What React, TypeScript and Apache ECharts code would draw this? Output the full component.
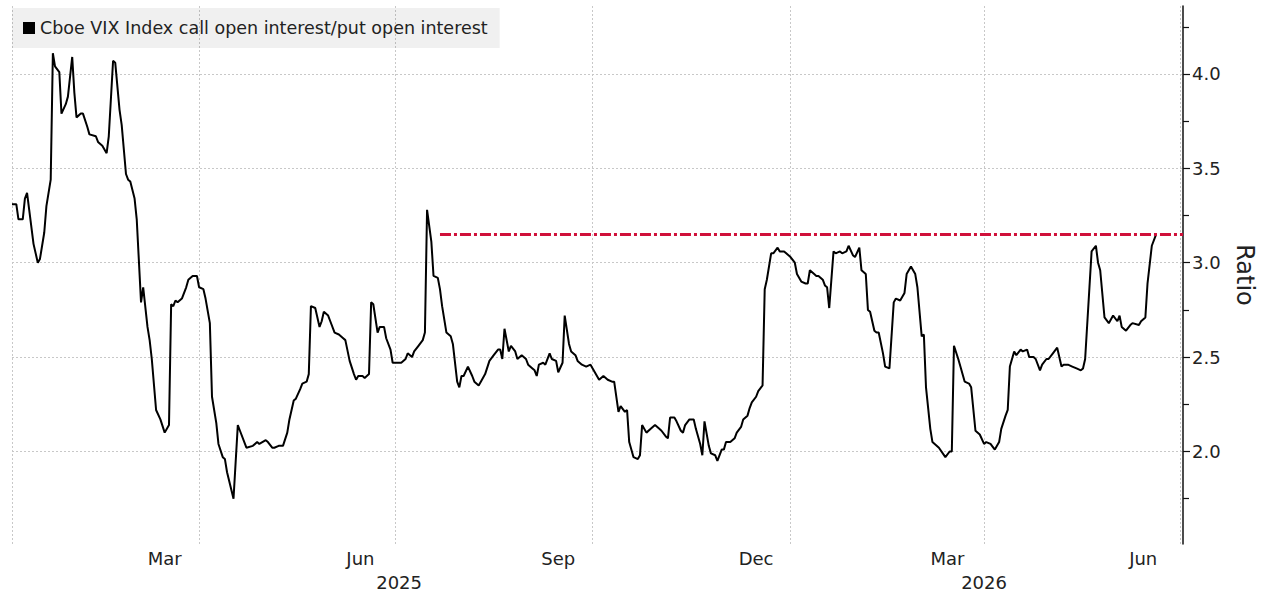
import React, { useEffect, useRef } from "react";
import * as echarts from "echarts";

const seriesName = "Cboe VIX Index call open interest/put open interest";

const dates: string[] = [
  "2025-01-04","2025-01-06","2025-01-07","2025-01-09","2025-01-10","2025-01-11","2025-01-12","2025-01-14","2025-01-16","2025-01-17",
  "2025-01-19","2025-01-20","2025-01-22","2025-01-23","2025-01-24","2025-01-26","2025-01-27","2025-01-29","2025-01-30","2025-02-01",
  "2025-02-02","2025-02-03","2025-02-05","2025-02-06","2025-02-08","2025-02-09","2025-02-12","2025-02-13","2025-02-15","2025-02-17",
  "2025-02-18","2025-02-20","2025-02-21","2025-02-23","2025-02-24","2025-02-26","2025-02-27","2025-02-28","2025-03-02","2025-03-03",
  "2025-03-05","2025-03-06","2025-03-08","2025-03-09","2025-03-10","2025-03-12","2025-03-14","2025-03-16","2025-03-18","2025-03-19",
  "2025-03-20","2025-03-21","2025-03-22","2025-03-24","2025-03-26","2025-03-27","2025-03-29","2025-03-31","2025-04-01","2025-04-03",
  "2025-04-04","2025-04-06","2025-04-07","2025-04-09","2025-04-10","2025-04-12","2025-04-13","2025-04-14","2025-04-17","2025-04-19",
  "2025-04-20","2025-04-23","2025-04-26","2025-04-28","2025-04-29","2025-05-02","2025-05-03","2025-05-05","2025-05-06","2025-05-08",
  "2025-05-10","2025-05-12","2025-05-13","2025-05-15","2025-05-16","2025-05-18","2025-05-19","2025-05-21","2025-05-22","2025-05-23",
  "2025-05-25","2025-05-27","2025-05-28","2025-05-29","2025-05-31","2025-06-01","2025-06-03","2025-06-05","2025-06-07","2025-06-08",
  "2025-06-10","2025-06-12","2025-06-13","2025-06-14","2025-06-16","2025-06-17","2025-06-19","2025-06-20","2025-06-21","2025-06-23",
  "2025-06-24","2025-06-26","2025-06-27","2025-06-29","2025-06-30","2025-07-02","2025-07-04","2025-07-06","2025-07-07","2025-07-09",
  "2025-07-10","2025-07-12","2025-07-14","2025-07-15","2025-07-16","2025-07-18","2025-07-19","2025-07-21","2025-07-22","2025-07-23",
  "2025-07-25","2025-07-27","2025-07-28","2025-07-30","2025-07-31","2025-08-01","2025-08-02","2025-08-04","2025-08-06","2025-08-07",
  "2025-08-09","2025-08-10","2025-08-12","2025-08-14","2025-08-16","2025-08-18","2025-08-19","2025-08-20","2025-08-21","2025-08-23",
  "2025-08-24","2025-08-26","2025-08-27","2025-08-29","2025-08-31","2025-09-01","2025-09-03","2025-09-04","2025-09-05","2025-09-06",
  "2025-09-08","2025-09-09","2025-09-11","2025-09-12","2025-09-14","2025-09-15","2025-09-17","2025-09-18","2025-09-20","2025-09-21",
  "2025-09-23","2025-09-24","2025-09-26","2025-09-28","2025-09-30","2025-10-01","2025-10-03","2025-10-04","2025-10-06","2025-10-08",
  "2025-10-10","2025-10-11","2025-10-13","2025-10-14","2025-10-16","2025-10-17","2025-10-18","2025-10-20","2025-10-22","2025-10-23",
  "2025-10-24","2025-10-26","2025-10-28","2025-10-30","2025-11-01","2025-11-02","2025-11-04","2025-11-05","2025-11-06","2025-11-08",
  "2025-11-09","2025-11-11","2025-11-12","2025-11-13","2025-11-15","2025-11-17","2025-11-18","2025-11-20","2025-11-21","2025-11-22",
  "2025-11-24","2025-11-25","2025-11-27","2025-11-28","2025-11-30","2025-12-01","2025-12-02","2025-12-04","2025-12-06","2025-12-07",
  "2025-12-09","2025-12-10","2025-12-12","2025-12-13","2025-12-14","2025-12-16","2025-12-17","2025-12-19","2025-12-20","2025-12-21",
  "2025-12-23","2025-12-24","2025-12-26","2025-12-27","2025-12-29","2025-12-30","2026-01-01","2026-01-03","2026-01-04","2026-01-06",
  "2026-01-08","2026-01-09","2026-01-10","2026-01-12","2026-01-13","2026-01-14","2026-01-16","2026-01-17","2026-01-18","2026-01-19",
  "2026-01-21","2026-01-22","2026-01-24","2026-01-25","2026-01-27","2026-01-28","2026-01-30","2026-01-31","2026-02-02","2026-02-03",
  "2026-02-05","2026-02-06","2026-02-07","2026-02-09","2026-02-10","2026-02-11","2026-02-13","2026-02-14","2026-02-16","2026-02-18",
  "2026-02-19","2026-02-21","2026-02-23","2026-02-24","2026-02-26","2026-02-28","2026-03-01","2026-03-03","2026-03-04","2026-03-05",
  "2026-03-07","2026-03-08","2026-03-11","2026-03-14","2026-03-16","2026-03-17","2026-03-18","2026-03-20","2026-03-21","2026-03-23",
  "2026-03-25","2026-03-26","2026-03-28","2026-03-30","2026-04-01","2026-04-02","2026-04-04","2026-04-06","2026-04-08","2026-04-09",
  "2026-04-11","2026-04-12","2026-04-13","2026-04-15","2026-04-16","2026-04-18","2026-04-19","2026-04-21","2026-04-22","2026-04-24",
  "2026-04-25","2026-04-27","2026-04-28","2026-04-30","2026-05-01","2026-05-03","2026-05-05","2026-05-07","2026-05-08","2026-05-10",
  "2026-05-12","2026-05-14","2026-05-16","2026-05-17","2026-05-18","2026-05-20","2026-05-21","2026-05-23","2026-05-24","2026-05-25",
  "2026-05-27","2026-05-29","2026-05-31","2026-06-02","2026-06-03","2026-06-04","2026-06-06","2026-06-08","2026-06-09","2026-06-12",
  "2026-06-13","2026-06-15","2026-06-16","2026-06-18","2026-06-20",
];

const ratios: number[] = [
  3.31,3.31,3.23,3.23,3.34,3.37,3.28,3.10,3.00,3.02,
  3.16,3.30,3.44,4.11,4.04,4.01,3.79,3.84,3.88,4.09,
  3.90,3.77,3.79,3.79,3.72,3.68,3.67,3.64,3.62,3.58,
  3.67,4.07,4.06,3.81,3.73,3.47,3.44,3.43,3.34,3.23,
  2.79,2.87,2.66,2.59,2.49,2.22,2.17,2.10,2.14,2.78,
  2.77,2.80,2.79,2.81,2.87,2.91,2.93,2.93,2.87,2.86,
  2.81,2.68,2.29,2.15,2.04,1.97,1.96,1.89,1.75,2.14,
  2.11,2.02,2.03,2.05,2.04,2.06,2.05,2.02,2.02,2.03,
  2.03,2.10,2.17,2.27,2.28,2.33,2.36,2.37,2.41,2.77,
  2.76,2.66,2.69,2.74,2.72,2.69,2.63,2.62,2.60,2.59,
  2.48,2.41,2.38,2.40,2.40,2.39,2.41,2.79,2.78,2.63,
  2.66,2.66,2.60,2.54,2.47,2.47,2.47,2.49,2.52,2.50,
  2.53,2.56,2.59,2.63,3.28,3.11,2.93,2.92,2.86,2.77,
  2.63,2.61,2.57,2.37,2.34,2.40,2.40,2.45,2.40,2.37,
  2.35,2.37,2.41,2.48,2.51,2.54,2.54,2.49,2.65,2.53,
  2.56,2.53,2.49,2.51,2.49,2.46,2.44,2.43,2.40,2.46,
  2.47,2.46,2.52,2.49,2.48,2.42,2.47,2.72,2.57,2.53,
  2.51,2.48,2.46,2.45,2.46,2.44,2.40,2.38,2.40,2.38,
  2.37,2.37,2.21,2.24,2.21,2.22,2.05,1.97,1.96,1.98,
  2.14,2.10,2.12,2.14,2.12,2.11,2.08,2.07,2.18,2.18,
  2.16,2.11,2.10,2.14,2.17,2.17,2.12,2.04,1.98,2.16,
  2.03,1.99,1.98,1.95,2.01,2.01,2.05,2.05,2.07,2.10,
  2.13,2.17,2.19,2.23,2.26,2.29,2.32,2.35,2.86,2.91,
  3.05,3.05,3.08,3.06,3.06,3.05,3.03,3.00,2.94,2.90,
  2.89,2.89,2.96,2.94,2.93,2.93,2.91,2.88,2.87,2.76,
  3.06,3.05,3.06,3.05,3.06,3.09,3.04,3.03,3.08,2.96,
  2.94,2.75,2.74,2.64,2.63,2.63,2.52,2.45,2.44,2.79,
  2.81,2.80,2.84,2.94,2.98,2.94,2.87,2.61,2.62,2.34,
  2.12,2.05,2.02,1.97,2.00,2.00,2.56,2.49,2.45,2.37,
  2.36,2.34,2.11,2.09,2.04,2.05,2.04,2.01,2.05,2.12,
  2.19,2.22,2.45,2.53,2.51,2.54,2.53,2.54,2.50,2.50,
  2.49,2.43,2.46,2.49,2.49,2.52,2.55,2.45,2.46,2.46,
  2.45,2.44,2.43,2.44,2.49,2.87,3.06,3.09,3.00,2.96,
  2.71,2.68,2.72,2.69,2.72,2.66,2.64,2.67,2.68,2.67,
  2.69,2.71,2.89,3.09,3.15,
];

const refLevel = 3.15;
const refStart = "2025-07-22";

const xMin = "2025-01-04";
const xMax = "2026-07-02T12:00:00";
const yMin = 1.51;
const yMax = 4.36;

const yLabelValues = [2.0, 2.5, 3.0, 3.5, 4.0];
const yMinorValues = [1.75, 2.25, 2.75, 3.25, 3.75, 4.25];

const quarterLines = ["2025-01-04", "2025-04-01", "2025-07-01", "2025-10-01", "2026-01-01", "2026-04-01", "2026-07-01"];
const monthLabelDates = ["2025-03-16", "2025-06-15", "2025-09-15", "2025-12-16", "2026-03-15", "2026-06-14"];
const monthNames = ["Jan", "Feb", "Mar", "Apr", "May", "Jun", "Jul", "Aug", "Sep", "Oct", "Nov", "Dec"];
const yearLabelDates = ["2025-07-03", "2026-04-01"];

const ts = (s: string) => new Date(s.length === 10 ? s + "T00:00:00" : s).getTime();

const FONT = "DejaVu Sans";
const GRID_COLOR = "#c8c8c8";
const TEXT_COLOR = "#222";

export default function App() {
  const ref = useRef<HTMLDivElement>(null);

  useEffect(() => {
    if (!ref.current) return;
    const chart = echarts.init(ref.current, undefined, { renderer: "svg" });
    const data = dates.map((d, i) => [ts(d), ratios[i]]);

    chart.setOption({
      animation: false,
      backgroundColor: "#ffffff",
      textStyle: { fontFamily: FONT },
      grid: { left: 12, right: 83, top: 6, bottom: 53, containLabel: false },
      legend: {
        show: true,
        left: 12,
        top: 8,
        padding: [11, 12, 11, 11],
        itemWidth: 12,
        itemHeight: 12,
        itemGap: 10,
        backgroundColor: "rgba(0,0,0,0.06)",
        selectedMode: false,
        textStyle: { fontFamily: FONT, fontSize: 17.5, color: TEXT_COLOR },
        data: [{ name: seriesName, icon: "rect", itemStyle: { color: "#000" } }],
      },
      xAxis: [
        {
          type: "value",
          min: ts(xMin),
          max: ts(xMax),
          axisLine: { show: false },
          axisTick: { show: false, customValues: quarterLines.map(ts) },
          splitLine: { show: true, lineStyle: { color: GRID_COLOR, width: 1, type: [2, 2] } },
          axisLabel: {
            show: true,
            customValues: monthLabelDates.map(ts),
            formatter: (v: number) => monthNames[new Date(v).getMonth()],
            fontFamily: FONT,
            fontSize: 18,
            color: TEXT_COLOR,
            margin: 5,
          },
        },
        {
          type: "value",
          position: "bottom",
          min: ts(xMin),
          max: ts(xMax),
          axisLine: { show: false },
          axisTick: { show: false, customValues: yearLabelDates.map(ts) },
          splitLine: { show: false },
          axisLabel: {
            show: true,
            customValues: yearLabelDates.map(ts),
            formatter: (v: number) => String(new Date(v).getFullYear()),
            fontFamily: FONT,
            fontSize: 18,
            color: TEXT_COLOR,
            margin: 29,
          },
        },
      ],
      yAxis: [
        {
          type: "value",
          position: "right",
          min: yMin,
          max: yMax,
          axisLine: { show: true, lineStyle: { color: "#111", width: 1.5 } },
          axisTick: { show: true, inside: false, length: 7, customValues: yLabelValues, lineStyle: { color: "#111", width: 1.2 } },
          axisLabel: {
            show: true,
            customValues: yLabelValues,
            formatter: (v: number) => v.toFixed(1),
            fontFamily: FONT,
            fontSize: 18,
            color: TEXT_COLOR,
            margin: 9,
          },
          splitLine: { show: true, lineStyle: { color: GRID_COLOR, width: 1, type: [2, 2] } },
          name: "Ratio",
          nameLocation: "middle",
          nameRotate: -90,
          nameGap: 50,
          nameTextStyle: { fontFamily: FONT, fontSize: 24, color: TEXT_COLOR },
        },
        {
          type: "value",
          position: "right",
          min: yMin,
          max: yMax,
          axisLine: { show: false },
          axisTick: { show: true, inside: false, length: 6, customValues: yMinorValues, lineStyle: { color: "#111", width: 1.2 } },
          axisLabel: { show: false },
          splitLine: { show: false },
        },
      ],
      series: [
        {
          name: seriesName,
          type: "line",
          xAxisIndex: 0,
          yAxisIndex: 0,
          data,
          showSymbol: false,
          symbol: "none",
          lineStyle: { color: "#000", width: 2 },
          itemStyle: { color: "#000" },
          emphasis: { disabled: true },
          markLine: {
            silent: true,
            symbol: ["none", "none"],
            label: { show: false },
            emphasis: { disabled: true },
            lineStyle: { color: "#d0103a", width: 3, type: [11, 3, 3, 3] },
            data: [[{ coord: [ts(refStart), refLevel] }, { coord: [ts(xMax), refLevel] }]],
          },
        },
      ],
    });

    return () => chart.dispose();
  }, []);

  return <div ref={ref} style={{ position: "fixed", left: 0, top: 0, width: 1266, height: 597 }} />;
}
